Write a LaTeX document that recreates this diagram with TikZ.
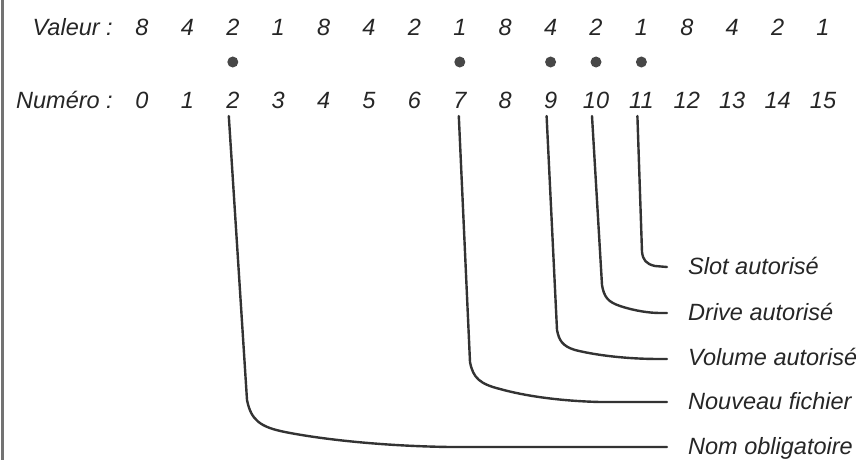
\documentclass[tikz,border=0pt]{standalone}
\usepackage{fontspec}
\setmainfont{Liberation Sans}
\usetikzlibrary{calc}
\tikzset{
  txt/.style={font=\fontsize{23.5}{28}\selectfont\itshape, text=black!85, inner sep=0pt,
    text height=17pt, text depth=4.7pt},
  num/.style={txt, anchor=center},
  lab/.style={txt, anchor=west},
  dot/.style={circle, fill=black!72, inner sep=0pt, minimum size=11pt},
  conn/.style={draw=black!80, line width=2.4pt, line cap=round}
}
\begin{document}
\begin{tikzpicture}[x=1pt,y=-1pt]
\useasboundingbox (0,0) rectangle (856,460);
\fill[white] (0,0) rectangle (856,460);
\draw[black!55, line width=3pt] (2,0) -- (2,460);
% row labels
\node[txt, anchor=east] (vl) at (113,29) {Valeur :};
\node[txt, anchor=east] (nl) at (113,102) {Numéro :};
% columns
\foreach \v [count=\i from 0] in {8,4,2,1,8,4,2,1,8,4,2,1,8,4,2,1} {
  \node[num] (v\i) at ({142+45.4*\i},29) {\v};
  \node[num] (n\i) at ({142+45.4*\i},102) {\i};
}
% dots
\foreach \i in {2,7,9,10,11} {
  \node[dot] (p\i) at ({142+45.4*\i},62) {};
}
% labels
\node[lab] (slot) at (688,268) {Slot autorisé};
\node[lab] (drive) at (688,314) {Drive autorisé};
\node[lab] (vol) at (688,359) {Volume autorisé};
\node[lab] (nouv) at (688,403) {Nouveau fichier};
\node[lab] (nom) at (688,448) {Nom obligatoire};
% connectors
\draw[conn] ([xshift=-4pt,yshift=-3pt]n2.south) -- (247,400)
  .. controls (251,420) and (260,427) .. (285,432)
  .. controls (320,439) and (380,446) .. (450,447) -- ([xshift=-21pt,yshift=1pt]nom.west);
\draw[conn] ([xshift=-1pt,yshift=-3pt]n7.south) -- (470,362)
  .. controls (473,378) and (480,384) .. (500,389)
  .. controls (525,396) and (560,401) .. (600,402) -- ([xshift=-21pt,yshift=1pt]nouv.west);
\draw[conn] ([xshift=-4pt,yshift=-3pt]n9.south) -- (557,330)
  .. controls (559,340) and (562,346) .. (575,350)
  .. controls (595,355) and (625,359) .. (660,359) -- ([xshift=-21pt]vol.west);
\draw[conn] ([xshift=-4pt,yshift=-3pt]n10.south) -- (602,285)
  .. controls (604,297) and (608,302) .. (620,306)
  .. controls (635,311) and (650,313) .. (660,313) -- ([xshift=-21pt,yshift=1pt]drive.west);
\draw[conn] ([xshift=-4pt,yshift=-3pt]n11.south) -- (642,252)
  .. controls (643,260) and (646,264) .. (655,266) -- ([xshift=-21pt,yshift=1pt]slot.west);
\end{tikzpicture}
\end{document}
